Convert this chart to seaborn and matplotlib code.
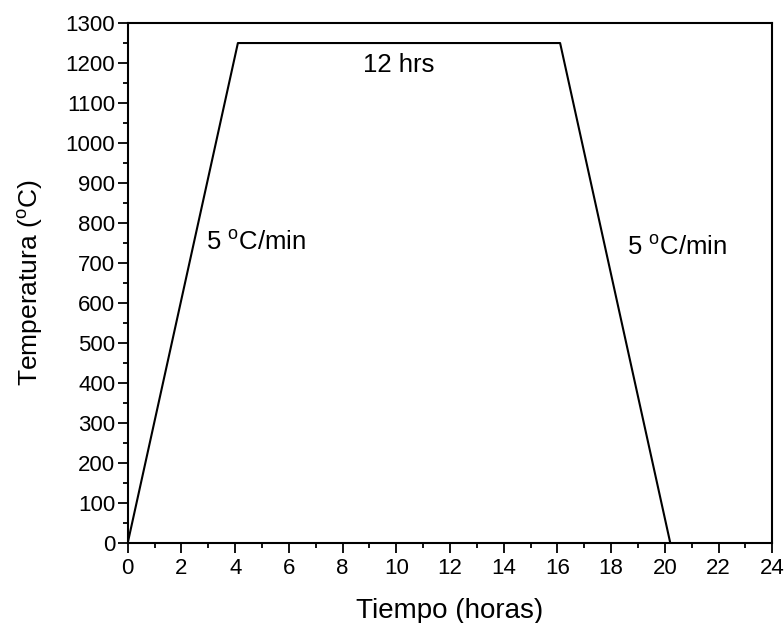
import matplotlib
matplotlib.use("Agg")
import matplotlib.pyplot as plt
import seaborn as sns
import pandas as pd
from matplotlib.ticker import MultipleLocator

# Heat-treatment profile: ramp up, hold, ramp down
tiempo_h = [0.0, 4.1, 16.1, 20.2]
temperatura_c = [0, 1250, 1250, 0]

sns.set_theme(style="ticks")
plt.rcParams["font.family"] = ["Liberation Sans", "DejaVu Sans"]
plt.rcParams["mathtext.fontset"] = "custom"
plt.rcParams["mathtext.rm"] = "Liberation Sans"
plt.rcParams["mathtext.it"] = "Liberation Sans:italic"
plt.rcParams["text.color"] = "black"
plt.rcParams["axes.labelcolor"] = "black"

df = pd.DataFrame({"tiempo": tiempo_h, "temp": temperatura_c})

fig = plt.figure(figsize=(7.84, 6.23), dpi=100)
ax = fig.add_axes([0.163, 0.129, 0.822, 0.834])

sns.lineplot(data=df, x="tiempo", y="temp", color="black", linewidth=1.5,
             sort=False, ax=ax)

ax.set_xlim(0, 24)
ax.set_ylim(0, 1300)
ax.xaxis.set_major_locator(MultipleLocator(2))
ax.xaxis.set_minor_locator(MultipleLocator(1))
ax.yaxis.set_major_locator(MultipleLocator(100))
ax.yaxis.set_minor_locator(MultipleLocator(50))
ax.tick_params(which="major", direction="out", length=7, width=1.3,
               labelsize=16, color="black", labelcolor="black")
ax.tick_params(which="minor", direction="out", length=3.8, width=1.3,
               color="black")
ax.tick_params(axis="x", which="major", pad=4)
ax.tick_params(axis="y", which="major", pad=2)
ax.tick_params(top=False, right=False, which="both")

for s in ax.spines.values():
    s.set_linewidth(1.5)
    s.set_color("black")

ax.set_xlabel("Tiempo (horas)", fontsize=20, color="black", labelpad=14)
ax.set_ylabel(r"Temperatura ($^{\rm o}$C)", fontsize=19, color="black", labelpad=15)

ax.text(2.9, 750, r"5 $^{\rm o}$C/min", fontsize=18.5, ha="left", va="center")
ax.text(18.6, 738, r"5 $^{\rm o}$C/min", fontsize=18.5, ha="left", va="center")
ax.text(10.1, 1195, "12 hrs", fontsize=18.5, ha="center", va="center")

fig.savefig("out.png", dpi=100)
